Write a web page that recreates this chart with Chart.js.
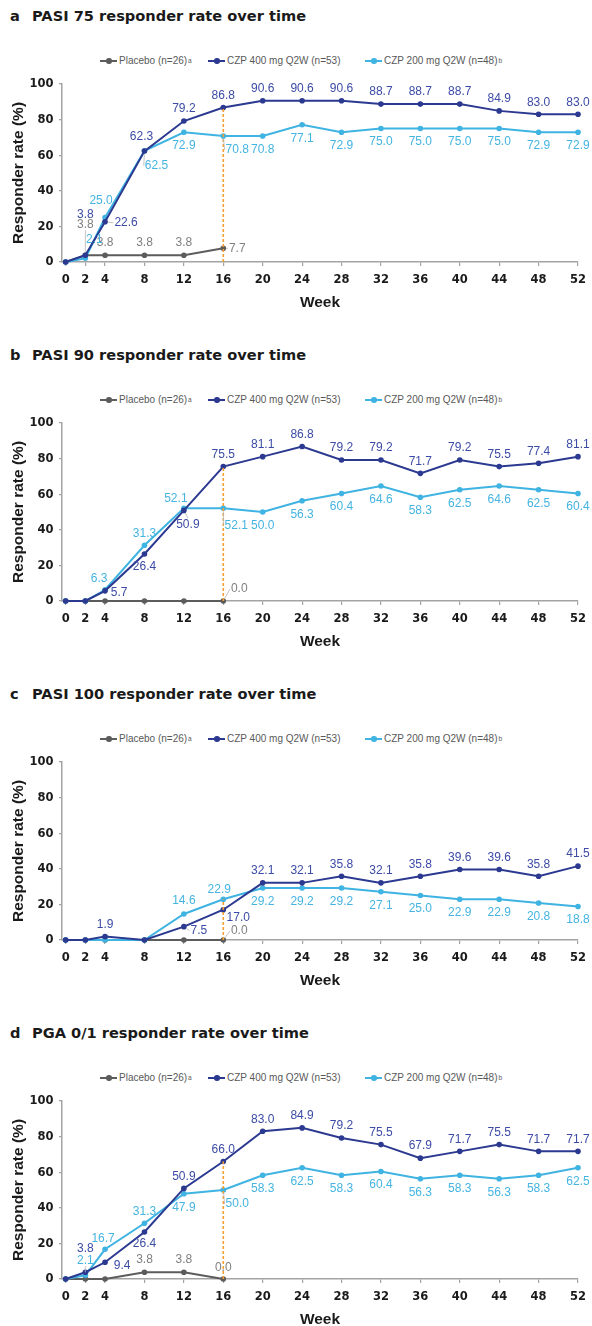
<!DOCTYPE html>
<html>
<head>
<meta charset="utf-8">
<script src="https://cdn.jsdelivr.net/npm/chart.js@4.4.1/dist/chart.umd.min.js"></script>
<style>
  html, body { margin: 0; padding: 0; background: #fff; }
  body { width: 592px; height: 1326px; overflow: hidden; position: relative; }
  .panel { position: absolute; left: 0; width: 592px; height: 339px; }
  .panel canvas { position: absolute; left: 0; top: 0; }
  .title { position: absolute; top: 7px; left: 0; width: 592px; height: 18px;
           font: bold 14.6px 'DejaVu Sans', sans-serif; line-height: 17.5px; color: #1a1a1a; white-space: nowrap; }
  .title .tag { position: absolute; left: 10px; }
  .title .txt { position: absolute; left: 32px; }
  .legend { position: absolute; top: 55px; left: 0; width: 592px; height: 12px;
            font: 10px 'Liberation Sans', Arial, sans-serif; color: #595959; white-space: nowrap; }
  .legend .item { position: absolute; top: 0; height: 12px; line-height: 12px; display: flex; align-items: center; }
  .legend .mark { position: relative; width: 17px; height: 1.5px; margin-right: 2px; }
  .legend .dot { position: absolute; left: 6px; top: -2px; width: 5.5px; height: 5.5px; border-radius: 50%; }
  .legend sup { font-size: 6.5px; line-height: 6px; vertical-align: 4px; margin-left: 1px; }
</style>
</head>
<body>
<script>
// --- Data ---
const weeks = [0, 2, 4, 8, 12, 16, 20, 24, 28, 32, 36, 40, 44, 48, 52];
const yTicks = [0, 20, 40, 60, 80, 100];

const seriesNames = ['Placebo (n=26)', 'CZP 400 mg Q2W (n=53)', 'CZP 200 mg Q2W (n=48)'];
const seriesNotes = ['a', '', 'b'];

const panelTags = ['a', 'b', 'c', 'd'];
const panelTitles = [
    'PASI 75 responder rate over time',
    'PASI 90 responder rate over time',
    'PASI 100 responder rate over time',
    'PGA 0/1 responder rate over time'
];

// placebo only runs to week 16
const pasi75Placebo = [0, 3.8, 3.8, 3.8, 3.8, 7.7];
const pasi75Czp400 = [0, 3.8, 22.6, 62.3, 79.2, 86.8, 90.6, 90.6, 90.6, 88.7, 88.7, 88.7, 84.9, 83.0, 83.0];
const pasi75Czp200 = [0, 2.1, 25.0, 62.5, 72.9, 70.8, 70.8, 77.1, 72.9, 75.0, 75.0, 75.0, 75.0, 72.9, 72.9];

const pasi90Placebo = [0, 0, 0, 0, 0, 0];
const pasi90Czp400 = [0, 0, 5.7, 26.4, 50.9, 75.5, 81.1, 86.8, 79.2, 79.2, 71.7, 79.2, 75.5, 77.4, 81.1];
const pasi90Czp200 = [0, 0, 6.3, 31.3, 52.1, 52.1, 50.0, 56.3, 60.4, 64.6, 58.3, 62.5, 64.6, 62.5, 60.4];

const pasi100Placebo = [0, 0, 0, 0, 0, 0];
const pasi100Czp400 = [0, 0, 1.9, 0, 7.5, 17.0, 32.1, 32.1, 35.8, 32.1, 35.8, 39.6, 39.6, 35.8, 41.5];
const pasi100Czp200 = [0, 0, 0, 0, 14.6, 22.9, 29.2, 29.2, 29.2, 27.1, 25.0, 22.9, 22.9, 20.8, 18.8];

const pgaPlacebo = [0, 0, 0, 3.8, 3.8, 0];
const pgaCzp400 = [0, 3.8, 9.4, 26.4, 50.9, 66.0, 83.0, 84.9, 79.2, 75.5, 67.9, 71.7, 75.5, 71.7, 71.7];
const pgaCzp200 = [0, 2.1, 16.7, 31.3, 47.9, 50.0, 58.3, 62.5, 58.3, 60.4, 56.3, 58.3, 56.3, 58.3, 62.5];

const primaryWeek = 16;

// --- Styles ---
const lineColors = ['#5c5c5c', '#2b3990', '#3fb3e2'];
const labelColors = ['#7f7f7f', '#3c4ba5', '#45b4e1'];
const cutoffColor = '#f5a033';
const axisColor = '#a3a3a3';
const tickFont = { family: "'DejaVu Sans Condensed', 'DejaVu Sans', sans-serif", size: 12.8, weight: 'bold' };
const axisTitleFont = { family: "'Liberation Sans', Arial, sans-serif", size: 15.5, weight: 'bold' };
const legendLeft = [100, 208, 365];

// label placement: default offset per series, then per-panel tweaks ("series,index")
const defaultSpot = [[0, -13], [0, -12], [0, 13.5]];
const panelSpots = [
    {
        '1,1': { dx: 0, dy: -41 }, '0,1': { dx: 0, dy: -31, lead: true }, '2,1': { dx: 9, dy: -19 },
        '2,2': { dx: -4, dy: -17 }, '1,2': { dx: 21, dy: 1, lead: true },
        '1,3': { dx: -3, dy: -14 }, '2,3': { dx: 12, dy: 15, lead: true },
        '2,5': { dx: 14, dy: 14, lead: true }, '0,5': { dx: 14, dy: 0, lead: true }
    },
    {
        '2,2': { dx: -6, dy: -11 }, '1,2': { dx: 14, dy: 2 },
        '2,3': { dx: 0, dy: -12 }, '1,3': { dx: 0, dy: 13 },
        '2,4': { dx: -8, dy: -10 }, '1,4': { dx: 4, dy: 14, lead: true },
        '2,5': { dx: 13, dy: 17, lead: true }, '0,5': { dx: 16, dy: -12, lead: true }
    },
    {
        '2,4': { dx: 0, dy: -13 }, '1,4': { dx: 15, dy: 4, lead: true },
        '2,5': { dx: -4, dy: -10 }, '1,5': { dx: 15, dy: 8 }, '0,5': { dx: 16, dy: -9, lead: true }
    },
    {
        '1,1': { dx: 0, dy: -24 }, '2,1': { dx: 0, dy: -15, lead: true },
        '2,2': { dx: -2, dy: -11 }, '1,2': { dx: 17, dy: 3 },
        '2,3': { dx: 0, dy: -12 }, '1,3': { dx: 0, dy: 12 },
        '2,5': { dx: 14, dy: 14, lead: true }, '0,5': { dx: 0, dy: -11 }
    }
];

const panelData = [
    [pasi75Placebo, pasi75Czp400, pasi75Czp200],
    [pasi90Placebo, pasi90Czp400, pasi90Czp200],
    [pasi100Placebo, pasi100Czp400, pasi100Czp200],
    [pgaPlacebo, pgaCzp400, pgaCzp200]
];

// --- Value labels plugin ---
const valueLabels = {
    id: 'valueLabels',
    afterDatasetsDraw(chart, args, opts) {
        const ctx = chart.ctx;
        ctx.save();
        ctx.font = '12px "Liberation Sans", Arial, sans-serif';
        ctx.textAlign = 'center';
        ctx.textBaseline = 'middle';
        for (let s = 0; s < 3; s++) {
            const meta = chart.getDatasetMeta(s);
            const ds = chart.data.datasets[s];
            meta.data.forEach((pt, i) => {
                const v = ds.data[i].y;
                const over = opts.spots[s + ',' + i];
                if (v === 0 && !over) return;
                const [dx, dy] = over ? [over.dx, over.dy] : defaultSpot[s];
                const cx = pt.x + dx, cy = pt.y + dy;
                const text = v.toFixed(1);
                if (over && over.lead) {
                    const w = ctx.measureText(text).width, h = 10;
                    let ex, ey;
                    if (Math.abs(dx) > w / 2) { ex = cx - Math.sign(dx) * (w / 2 + 1); ey = cy; }
                    else { ex = cx; ey = cy - Math.sign(dy) * (h / 2 + 1); }
                    const len = Math.hypot(ex - pt.x, ey - pt.y) || 1;
                    ctx.beginPath();
                    ctx.moveTo(pt.x + (ex - pt.x) * 3 / len, pt.y + (ey - pt.y) * 3 / len);
                    ctx.lineTo(ex, ey);
                    ctx.strokeStyle = '#b5b5b5';
                    ctx.lineWidth = 0.8;
                    ctx.stroke();
                }
                ctx.fillStyle = labelColors[s];
                ctx.fillText(text, cx, cy);
            });
        }
        ctx.restore();
    }
};

// --- Build panels ---
panelData.forEach((series, p) => {
    const panel = document.createElement('div');
    panel.className = 'panel';
    panel.style.top = (p * 339) + 'px';

    const title = document.createElement('div');
    title.className = 'title';
    title.innerHTML = `<span class="tag">${panelTags[p]}</span><span class="txt">${panelTitles[p]}</span>`;
    panel.appendChild(title);

    const legend = document.createElement('div');
    legend.className = 'legend';
    seriesNames.forEach((name, s) => {
        const item = document.createElement('div');
        item.className = 'item';
        item.style.left = legendLeft[s] + 'px';
        item.innerHTML = `<span class="mark" style="background:${lineColors[s]}"><span class="dot" style="background:${lineColors[s]}"></span></span>`
            + `<span>${name}</span>` + (seriesNotes[s] ? `<sup>${seriesNotes[s]}</sup>` : '');
        legend.appendChild(item);
    });
    panel.appendChild(legend);

    const canvas = document.createElement('canvas');
    canvas.width = 592;
    canvas.height = 339;
    panel.appendChild(canvas);
    document.body.appendChild(panel);

    const cutIdx = weeks.indexOf(primaryWeek);
    const cutTop = Math.max(...series.map(vals => vals[cutIdx]));

    const datasets = series.map((vals, s) => ({
        label: seriesNames[s],
        data: vals.map((v, i) => ({ x: weeks[i], y: v })),
        borderColor: lineColors[s],
        backgroundColor: lineColors[s],
        borderWidth: 2,
        pointRadius: 2.8,
        pointBorderWidth: 0,
        pointHoverRadius: 2.8,
        tension: 0,
        clip: false,
        order: s === 1 ? 1 : (s === 2 ? 2 : 3)
    }));
    datasets.push({
        label: 'Week 16',
        data: [{ x: primaryWeek, y: 0 }, { x: primaryWeek, y: cutTop }],
        borderColor: cutoffColor,
        borderWidth: 1.6,
        borderDash: [3, 2],
        pointRadius: 0,
        clip: false,
        order: 0
    });

    new Chart(canvas, {
        type: 'line',
        data: { datasets },
        options: {
            responsive: false,
            animation: false,
            devicePixelRatio: 1,
            layout: { padding: { top: 84, right: 9.7, bottom: 0, left: 0 } },
            plugins: {
                legend: { display: false },
                tooltip: { enabled: false },
                valueLabels: { spots: panelSpots[p] }
            },
            scales: {
                x: {
                    type: 'linear',
                    min: -0.37,
                    max: 52,
                    afterBuildTicks: scale => { scale.ticks = weeks.map(w => ({ value: w })); },
                    afterFit: scale => { scale.height = 77; },
                    ticks: { font: tickFont, color: '#1a1a1a', padding: 6, autoSkip: false, maxRotation: 0 },
                    grid: { drawOnChartArea: false, drawTicks: true, tickLength: 4, color: axisColor, lineWidth: 1.2 },
                    border: { color: axisColor, width: 1.5 },
                    title: { display: true, text: 'Week', font: axisTitleFont, color: '#1a1a1a', padding: { top: 0, bottom: 27 } }
                },
                y: {
                    min: 0,
                    max: 100,
                    afterBuildTicks: scale => { scale.ticks = yTicks.map(v => ({ value: v })); },
                    afterFit: scale => { scale.width = 62; },
                    ticks: { font: tickFont, color: '#1a1a1a', padding: 5.5 },
                    grid: { drawOnChartArea: false, drawTicks: true, tickLength: 3, color: axisColor, lineWidth: 1.2 },
                    border: { color: axisColor, width: 1.5 },
                    title: { display: true, text: 'Responder rate (%)', font: axisTitleFont, color: '#1a1a1a', padding: { top: 9, bottom: 0 } }
                }
            }
        },
        plugins: [valueLabels]
    });
});
</script>
</body>
</html>
